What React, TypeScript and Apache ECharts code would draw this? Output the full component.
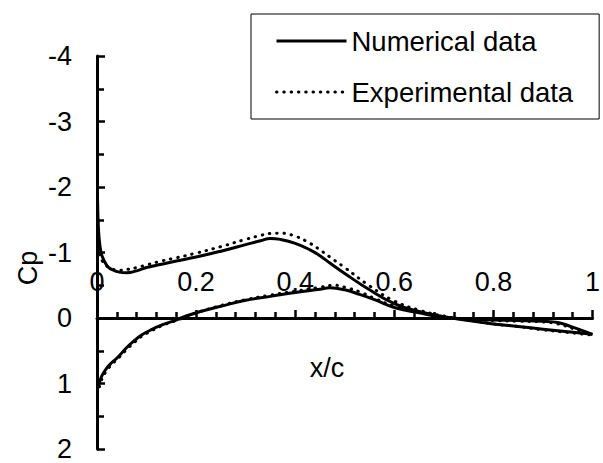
import React, { useEffect, useRef } from "react";
import * as echarts from "echarts";

// Numerical data — upper surface (suction side)
const xNumUp = [0.001, 0.003, 0.006, 0.01, 0.02, 0.03, 0.045, 0.06, 0.08, 0.1, 0.13, 0.16, 0.2, 0.25, 0.3, 0.33, 0.35, 0.37, 0.4, 0.43, 0.45, 0.47, 0.5, 0.55, 0.6, 0.65, 0.7, 0.75, 0.8, 0.85, 0.9, 0.95, 1.0];
const cpNumUp = [-1.85, -1.35, -1.1, -0.95, -0.8, -0.74, -0.7, -0.69, -0.72, -0.77, -0.82, -0.87, -0.93, -1.02, -1.12, -1.18, -1.215, -1.2, -1.14, -1.04, -0.95, -0.84, -0.68, -0.43, -0.22, -0.1, -0.02, 0.04, 0.09, 0.13, 0.17, 0.21, 0.25];
// Numerical data — lower surface
const xNumLo = [0.003, 0.01, 0.02, 0.03, 0.042, 0.06, 0.076, 0.09, 0.109, 0.13, 0.156, 0.18, 0.209, 0.25, 0.3, 0.35, 0.4, 0.45, 0.47, 0.5, 0.53, 0.56, 0.6, 0.65, 0.7, 0.75, 0.8, 0.85, 0.9, 0.93, 0.96, 1.0];
const cpNumLo = [1.03, 0.88, 0.76, 0.68, 0.6, 0.45, 0.34, 0.26, 0.18, 0.11, 0.04, -0.03, -0.1, -0.18, -0.27, -0.33, -0.39, -0.44, -0.46, -0.43, -0.36, -0.28, -0.16, -0.08, -0.01, 0.02, 0.03, 0.04, 0.05, 0.07, 0.14, 0.25];
// Experimental data — upper surface
const xExpUp = [0.002, 0.005, 0.01, 0.02, 0.03, 0.045, 0.06, 0.08, 0.1, 0.13, 0.16, 0.2, 0.25, 0.3, 0.33, 0.35, 0.37, 0.4, 0.43, 0.45, 0.47, 0.5, 0.55, 0.6, 0.65, 0.7, 0.75, 0.8, 0.85, 0.9, 0.95, 1.0];
const cpExpUp = [-1.2, -1.0, -0.88, -0.79, -0.75, -0.73, -0.74, -0.77, -0.81, -0.87, -0.92, -0.99, -1.09, -1.2, -1.26, -1.29, -1.295, -1.25, -1.14, -1.04, -0.93, -0.77, -0.49, -0.26, -0.12, -0.03, 0.03, 0.09, 0.13, 0.18, 0.22, 0.26];
// Experimental data — lower surface
const xExpLo = [0.005, 0.01, 0.02, 0.03, 0.042, 0.06, 0.076, 0.09, 0.109, 0.13, 0.156, 0.18, 0.209, 0.25, 0.3, 0.35, 0.4, 0.45, 0.48, 0.5, 0.53, 0.56, 0.6, 0.65, 0.7, 0.75, 0.8, 0.85, 0.9, 0.93, 0.96, 1.0];
const cpExpLo = [1.05, 0.93, 0.8, 0.71, 0.62, 0.48, 0.37, 0.28, 0.2, 0.12, 0.05, -0.02, -0.1, -0.19, -0.28, -0.35, -0.41, -0.47, -0.5, -0.47, -0.4, -0.3, -0.18, -0.09, -0.02, 0.02, 0.04, 0.05, 0.06, 0.09, 0.16, 0.26];

const seriesNames = ["Numerical data", "Experimental data"];
const xMin = 0, xMax = 1, xStep = 0.2;
const yMin = -4, yMax = 2, yStep = 1;
const xTitle = "x/c";
const yTitle = "Cp";

const zip = (xs: number[], ys: number[]) => xs.map((x, i) => [x, ys[i]]);

const FONT = "'Liberation Sans', Arial, sans-serif";

const GRID = { left: 97, right: 5, top: 56, bottom: 14 };
const H = 463;

export default function App() {
  const ref = useRef<HTMLDivElement>(null);
  useEffect(() => {
    if (!ref.current) return;
    const chart = echarts.init(ref.current, undefined, { renderer: "svg" });
    const solid = { color: "#000", width: 3, type: "solid" as const };
    const dotted = { color: "#000", width: 3, type: [0.5, 6.8], cap: "round" as const };
    const mk = (name: string, data: number[][], ls: any) => ({
      name,
      type: "line",
      data,
      symbol: "none",
      smooth: 0.45,
      lineStyle: ls,
      itemStyle: { color: "#000" },
      z: 3,
    });
    // place the x axis on Cp = 0 (y axis is inverted, so 0 is yMax units above the bottom)
    const gridH = H - GRID.top - GRID.bottom;
    const xAxisOffset = -gridH * (yMax - 0) / (yMax - yMin);
    chart.setOption({
      animation: false,
      backgroundColor: "#fff",
      grid: { ...GRID, containLabel: false },
      legend: {
        data: seriesNames,
        orient: "vertical",
        left: 251,
        top: 14,
        padding: [12, 26, 12, 24],
        itemWidth: 70,
        itemHeight: 14,
        itemGap: 21,
        borderColor: "#000",
        borderWidth: 1,
        borderRadius: 0,
        lineStyle: { width: 3 },
        itemStyle: { opacity: 0 },
        textStyle: { fontSize: 27.5, fontFamily: FONT, color: "#000", lineHeight: 30 },
      },
      xAxis: {
        type: "value",
        min: xMin,
        max: xMax,
        interval: xStep,
        position: "bottom",
        offset: xAxisOffset,
        axisLine: { onZero: false, lineStyle: { color: "#000", width: 3 } },
        axisTick: { show: true, inside: true, length: 8, lineStyle: { color: "#000", width: 2.5 } },
        minorTick: { show: true, splitNumber: 5, length: 6, lineStyle: { color: "#000", width: 2.5 } },
        axisLabel: {
          inside: true,
          margin: 23,
          fontSize: 27,
          fontFamily: FONT,
          color: "#000",
          formatter: (v: number) => String(+v.toFixed(2)),
        },
        splitLine: { show: false },
      },
      yAxis: {
        type: "value",
        inverse: true,
        min: yMin,
        max: yMax,
        interval: yStep,
        axisLine: { show: true, onZero: false, lineStyle: { color: "#000", width: 3 } },
        axisTick: { show: true, inside: true, length: 8, lineStyle: { color: "#000", width: 2.5 } },
        minorTick: { show: true, splitNumber: 2, length: 7, lineStyle: { color: "#000", width: 2.5 } },
        axisLabel: { margin: 25, fontSize: 27, fontFamily: FONT, color: "#000" },
        splitLine: { show: false },
      },
      graphic: [
        {
          type: "text",
          x: 327,
          y: 368,
          style: { text: xTitle, fontSize: 27, fontFamily: FONT, fill: "#000", align: "center", verticalAlign: "middle" },
        },
        {
          type: "text",
          x: 28,
          y: 268,
          rotation: Math.PI / 2,
          style: { text: yTitle, fontSize: 27, fontFamily: FONT, fill: "#000", align: "center", verticalAlign: "middle" },
        },
      ],
      series: [
        mk(seriesNames[0], zip(xNumUp, cpNumUp), solid),
        mk(seriesNames[0], zip(xNumLo, cpNumLo), solid),
        mk(seriesNames[1], zip(xExpUp, cpExpUp), dotted),
        mk(seriesNames[1], zip(xExpLo, cpExpLo), dotted),
      ],
    });
    return () => chart.dispose();
  }, []);
  return (
    <div
      ref={ref}
      style={{ position: "absolute", left: 0, top: 0, width: 603, height: 463, background: "#fff" }}
    />
  );
}
